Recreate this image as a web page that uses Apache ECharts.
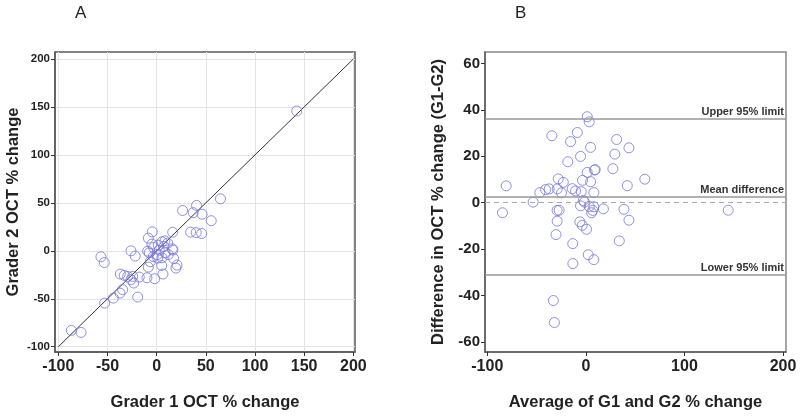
<!DOCTYPE html>
<html>
<head>
<meta charset="utf-8">
<script src="https://cdn.jsdelivr.net/npm/echarts@6/dist/echarts.min.js"></script>
<style>
html,body{margin:0;padding:0;background:#fff;}
#chart{width:800px;height:416px;}
</style>
</head>
<body>
<div id="chart"></div>
<script>
// Panel A: Grader 1 vs Grader 2 OCT % change
const gradersData = [
  [142.4,145.8],[64.9,54.2],[40.5,47.3],[26.4,42.0],[37.1,39.8],[46.2,38.1],[55.5,31.4],
  [34.5,19.5],[40.2,19.0],[45.8,18.0],[16.3,19.4],[-4.5,19.8],[-8.5,13.2],[-4.8,7.0],
  [5.4,9.4],[8.4,10.4],[-26.1,0.0],[-56.7,-6.2],[-53.3,-12.2],[-21.8,-5.5],[-9.2,-0.3],
  [-7.5,-2.1],[-3.1,3.4],[1.6,5.9],[2.6,0.7],[1.0,-7.6],[5.4,-7.3],[7.4,4.5],[11.2,8.0],
  [15.9,2.1],[16.5,0.8],[11.8,-3.8],[17.3,-8.0],[20.7,-14.9],[19.6,-18.0],[5.1,-15.3],
  [6.4,-24.2],[-2.0,-29.1],[-9.9,-28.1],[-8.5,-17.0],[-6.5,-11.4],[-37.0,-24.2],
  [-33.0,-25.6],[-29.5,-26.7],[-24.4,-26.7],[-17.7,-27.4],[-26.1,-30.1],[-23.4,-33.6],
  [-34.6,-40.5],[-37.3,-44.1],[-44.1,-49.3],[-52.9,-54.5],[-19.3,-48.2],[-86.8,-83.0],
  [-76.9,-85.1],[0.5,-4.0],[-3.5,-6.0],[8.5,-2.0]
];
// Identity line endpoints (y = x)
const identityLine = [-100, 200];

// Panel B: Bland-Altman (average vs difference)
const blandAltmanData = [
  [-84.6,-4.4],[-80.8,7.2],[-53.5,0.2],[-46.7,4.3],[-40.9,5.6],[-37.2,5.9],[-34.5,28.8],
  [-28.0,10.2],[-29.0,5.9],[-24.7,4.2],[-22.9,8.7],[-29.2,-3.4],[-27.1,-3.3],[-29.1,-8.0],
  [-30.3,-13.8],[-33.0,-42.2],[-31.9,-51.7],[-18.3,17.6],[-15.5,26.3],[-8.7,30.2],
  [-13.8,6.0],[-10.5,5.0],[-5.4,19.9],[-3.4,9.6],[-4.7,4.7],[-1.4,0.2],[-5.4,-1.4],
  [-2.6,0.9],[-6.1,-8.3],[-3.7,-9.8],[0.7,-11.5],[-13.3,-17.7],[-13.2,-26.3],[1.4,37.0],
  [3.4,34.8],[4.8,23.8],[1.4,13.0],[4.8,9.0],[8.8,14.0],[9.5,14.2],[8.1,4.3],[3.4,-1.7],
  [8.1,-1.8],[5.8,-4.4],[7.0,-3.4],[17.8,-2.7],[2.4,-22.5],[8.1,-24.6],[27.4,14.6],
  [29.4,20.9],[31.2,27.2],[43.7,23.6],[38.6,-2.9],[42.0,7.3],[43.7,-7.6],[33.9,-16.5],
  [59.8,10.1],[144.4,-3.3]
];
const limitNames = ['Upper 95% limit', 'Mean difference', 'Lower 95% limit'];
const limitValues = [36.2, 2.6, -31.1];
const zeroLine = [0];

// Tick labels
const ticksAx = [-100, -50, 0, 50, 100, 150, 200];
const ticksAy = [-100, -50, 0, 50, 100, 150, 200];
const ticksBx = [-100, 0, 100, 200];
const ticksBy = [-60, -40, -20, 0, 20, 40, 60];

const FONT = '"Liberation Sans", Arial, sans-serif';
const frameColor = '#5a5a5a';
const circleColor = '#7474dc';

function axisCommon(ticks, min, max, labelSize, split) {
  return {
    type: 'value', min: min, max: max,
    axisLine: {show: true, onZero: false, lineStyle: {color: frameColor, width: 1.5}},
    axisTick: {show: true, length: 4, inside: false, customValues: ticks, lineStyle: {color: '#333'}},
    axisLabel: {customValues: ticks, color: '#222', fontFamily: FONT, fontWeight: 'bold', fontSize: labelSize, margin: 5},
    splitLine: {show: split, lineStyle: {color: '#e4e4e4', width: 1}}
  };
}

const chart = echarts.init(document.getElementById('chart'), null, {renderer: 'canvas'});

const titleStyle = {fontFamily: FONT, fontWeight: 'bold', fontSize: 16.5, color: '#222'};

const xA = axisCommon(ticksAx, -103.4, 201.7, 16, true);
xA.gridIndex = 0; xA.axisLabel.margin = 7;
xA.name = 'Grader 1 OCT % change'; xA.nameLocation = 'middle'; xA.nameGap = 42;
xA.nameTextStyle = titleStyle;
const yA = axisCommon(ticksAy, -105.5, 207.3, 11.5, true);
yA.gridIndex = 0;
yA.name = 'Grader 2 OCT % change'; yA.nameLocation = 'middle'; yA.nameGap = 33;
yA.nameTextStyle = titleStyle;

const xB = axisCommon(ticksBx, -102.3, 203, 16, false);
xB.gridIndex = 1; xB.axisLabel.margin = 7;
xB.name = 'Average of G1 and G2 % change'; xB.nameLocation = 'middle'; xB.nameGap = 42;
xB.nameTextStyle = titleStyle;
const yB = axisCommon(ticksBy, -64.4, 64.9, 15, false);
yB.gridIndex = 1;
yB.name = 'Difference in OCT % change (G1-G2)'; yB.nameLocation = 'middle'; yB.nameGap = 38;
yB.nameTextStyle = titleStyle;

const limitLines = limitNames.map((n, i) => ({
  yAxis: limitValues[i],
  lineStyle: {color: '#999', width: 1.5, type: 'solid'},
  label: {show: true, formatter: n, position: 'insideEndTop', distance: [2, 1],
          fontFamily: FONT, fontWeight: 'bold', fontSize: 11, color: '#333'}
}));
const zeroLines = zeroLine.map(v => ({
  yAxis: v, lineStyle: {color: '#aaa', width: 1.2, type: [5, 4]}, label: {show: false}
}));

chart.setOption({
  animation: false,
  backgroundColor: '#fff',
  title: [
    {text: 'A', left: 70, top: 0, textStyle: {fontFamily: FONT, fontWeight: 'normal', fontSize: 17, color: '#222'}},
    {text: 'B', left: 510, top: 0, textStyle: {fontFamily: FONT, fontWeight: 'normal', fontSize: 17, color: '#222'}}
  ],
  grid: [
    {left: 55, right: 445, top: 52, bottom: 63, show: true, borderColor: frameColor, borderWidth: 1.5, backgroundColor: 'transparent'},
    {left: 485, right: 14, top: 52, bottom: 63, show: true, borderColor: '#888', borderWidth: 1.5, backgroundColor: 'transparent'}
  ],
  xAxis: [xA, xB],
  yAxis: [yA, yB],
  series: [
    {
      type: 'line', xAxisIndex: 0, yAxisIndex: 0,
      data: identityLine.map(v => [v, v]),
      showSymbol: false, lineStyle: {color: '#333', width: 1}, z: 3
    },
    {
      type: 'scatter', xAxisIndex: 0, yAxisIndex: 0, data: gradersData,
      symbol: 'circle', symbolSize: 10,
      itemStyle: {color: 'transparent', borderColor: circleColor, borderWidth: 1}, z: 4
    },
    {
      type: 'scatter', xAxisIndex: 1, yAxisIndex: 1, data: blandAltmanData,
      symbol: 'circle', symbolSize: 10,
      itemStyle: {color: 'transparent', borderColor: circleColor, borderWidth: 1}, z: 4,
      markLine: {symbol: ['none', 'none'], silent: true, animation: false,
                 data: limitLines.concat(zeroLines)}
    }
  ]
});
</script>
</body>
</html>
